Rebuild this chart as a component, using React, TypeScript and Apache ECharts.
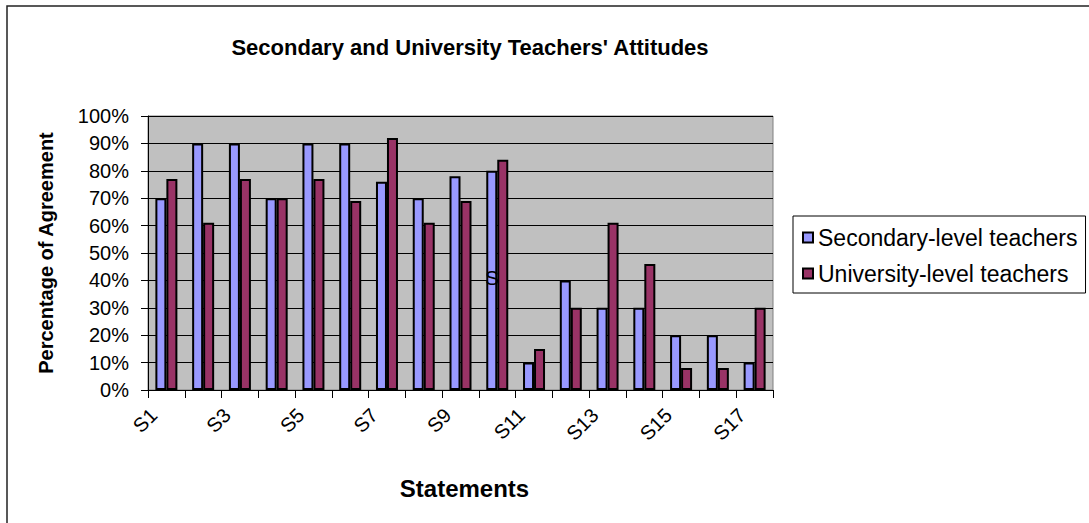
import React, { useEffect, useRef } from "react";
import * as echarts from "echarts";

const categories = ["S1","S2","S3","S4","S5","S6","S7","S8","S9","S10","S11","S12","S13","S14","S15","S16","S17"];
const secondary = [70, 90, 90, 70, 90, 90, 76, 70, 78, 80, 10, 40, 30, 30, 20, 20, 10];
const university = [77, 61, 77, 70, 77, 69, 92, 61, 69, 84, 15, 30, 61, 46, 8, 8, 30];
const seriesNames = ["Secondary-level teachers", "University-level teachers"];
const yTicks = { min: 0, max: 100, interval: 10 };

const FONT = "Liberation Sans, Arial, sans-serif";

export default function App() {
  const ref = useRef<HTMLDivElement>(null);
  useEffect(() => {
    if (!ref.current) return;
    const chart = echarts.init(ref.current, null, { renderer: "svg" });
    chart.setOption({
      animation: false,
      backgroundColor: "#fff",
      textStyle: { fontFamily: FONT, color: "#000" },
      title: {
        text: "Secondary and University Teachers' Attitudes",
        left: 465,
        textAlign: "center",
        top: 31,
        textStyle: { fontFamily: FONT, fontSize: 22, fontWeight: "bold", color: "#000" },
      },
      legend: {
        orient: "vertical",
        left: 793,
        top: 216,
        padding: [10, 8, 8, 9],
        itemGap: 13,
        itemWidth: 10,
        itemHeight: 10,
        borderColor: "#000",
        borderWidth: 1,
        icon: "rect",
        textStyle: { fontFamily: FONT, fontSize: 23, color: "#000" },
        data: seriesNames,
      },
      grid: {
        left: 148,
        top: 116,
        width: 625,
        height: 274,
        show: true,
        backgroundColor: "#C0C0C0",
        borderColor: "#808080",
        borderWidth: 1,
        containLabel: false,
      },
      xAxis: {
        type: "category",
        data: categories,
        boundaryGap: true,
        name: "Statements",
        nameLocation: "middle",
        nameGap: 86,
        nameTextStyle: { fontFamily: FONT, fontSize: 24, fontWeight: "bold", color: "#000", padding: [0, 0, 0, 8] },
        axisLine: { lineStyle: { color: "#000", width: 1 } },
        axisTick: { show: true, interval: 0, length: 8, alignWithLabel: false, lineStyle: { color: "#000" } },
        axisLabel: {
          interval: 1,
          rotate: 45,
          fontSize: 20,
          color: "#000",
          fontFamily: FONT,
          margin: 9,
          padding: [0, 18, 0, 0],
        },
        splitLine: { show: false },
      },
      yAxis: {
        type: "value",
        min: yTicks.min,
        max: yTicks.max,
        interval: yTicks.interval,
        name: "Percentage of Agreement",
        nameLocation: "middle",
        nameRotate: 90,
        nameGap: 92,
        nameTextStyle: { fontFamily: FONT, fontSize: 20, fontWeight: "bold", color: "#000" },
        axisLine: { show: true, lineStyle: { color: "#000", width: 1 } },
        axisTick: { show: true, length: 7, lineStyle: { color: "#000" } },
        axisLabel: { formatter: "{value}%", fontSize: 20, color: "#000", fontFamily: FONT, margin: 19 },
        splitLine: { show: true, lineStyle: { color: "#000", width: 1 } },
      },
      series: [
        {
          name: seriesNames[0],
          type: "bar",
          data: secondary,
          barWidth: 11,
          barGap: "0%",
          itemStyle: { color: "#9999FF", borderColor: "#000", borderWidth: 2 },
        },
        {
          name: seriesNames[1],
          type: "bar",
          data: university,
          barWidth: 11,
          barGap: "0%",
          itemStyle: { color: "#993366", borderColor: "#000", borderWidth: 2 },
        },
      ],
      graphic: [
        {
          type: "rect",
          z: 100,
          shape: { x: 7, y: 6, width: 1100, height: 600 },
          style: { fill: "none", stroke: "#222", lineWidth: 1.5 },
          silent: true,
        },
        {
          type: "text",
          z: 100,
          x: 485,
          y: 267,
          style: { text: "S", fontFamily: FONT, fontSize: 21, fill: "#000" },
        },
      ],
    });
    return () => chart.dispose();
  }, []);
  return (
    <div style={{ position: "fixed", left: 0, top: 0, width: 1089, height: 523, background: "#fff" }}>
      <div ref={ref} style={{ width: 1089, height: 523 }} />
    </div>
  );
}
